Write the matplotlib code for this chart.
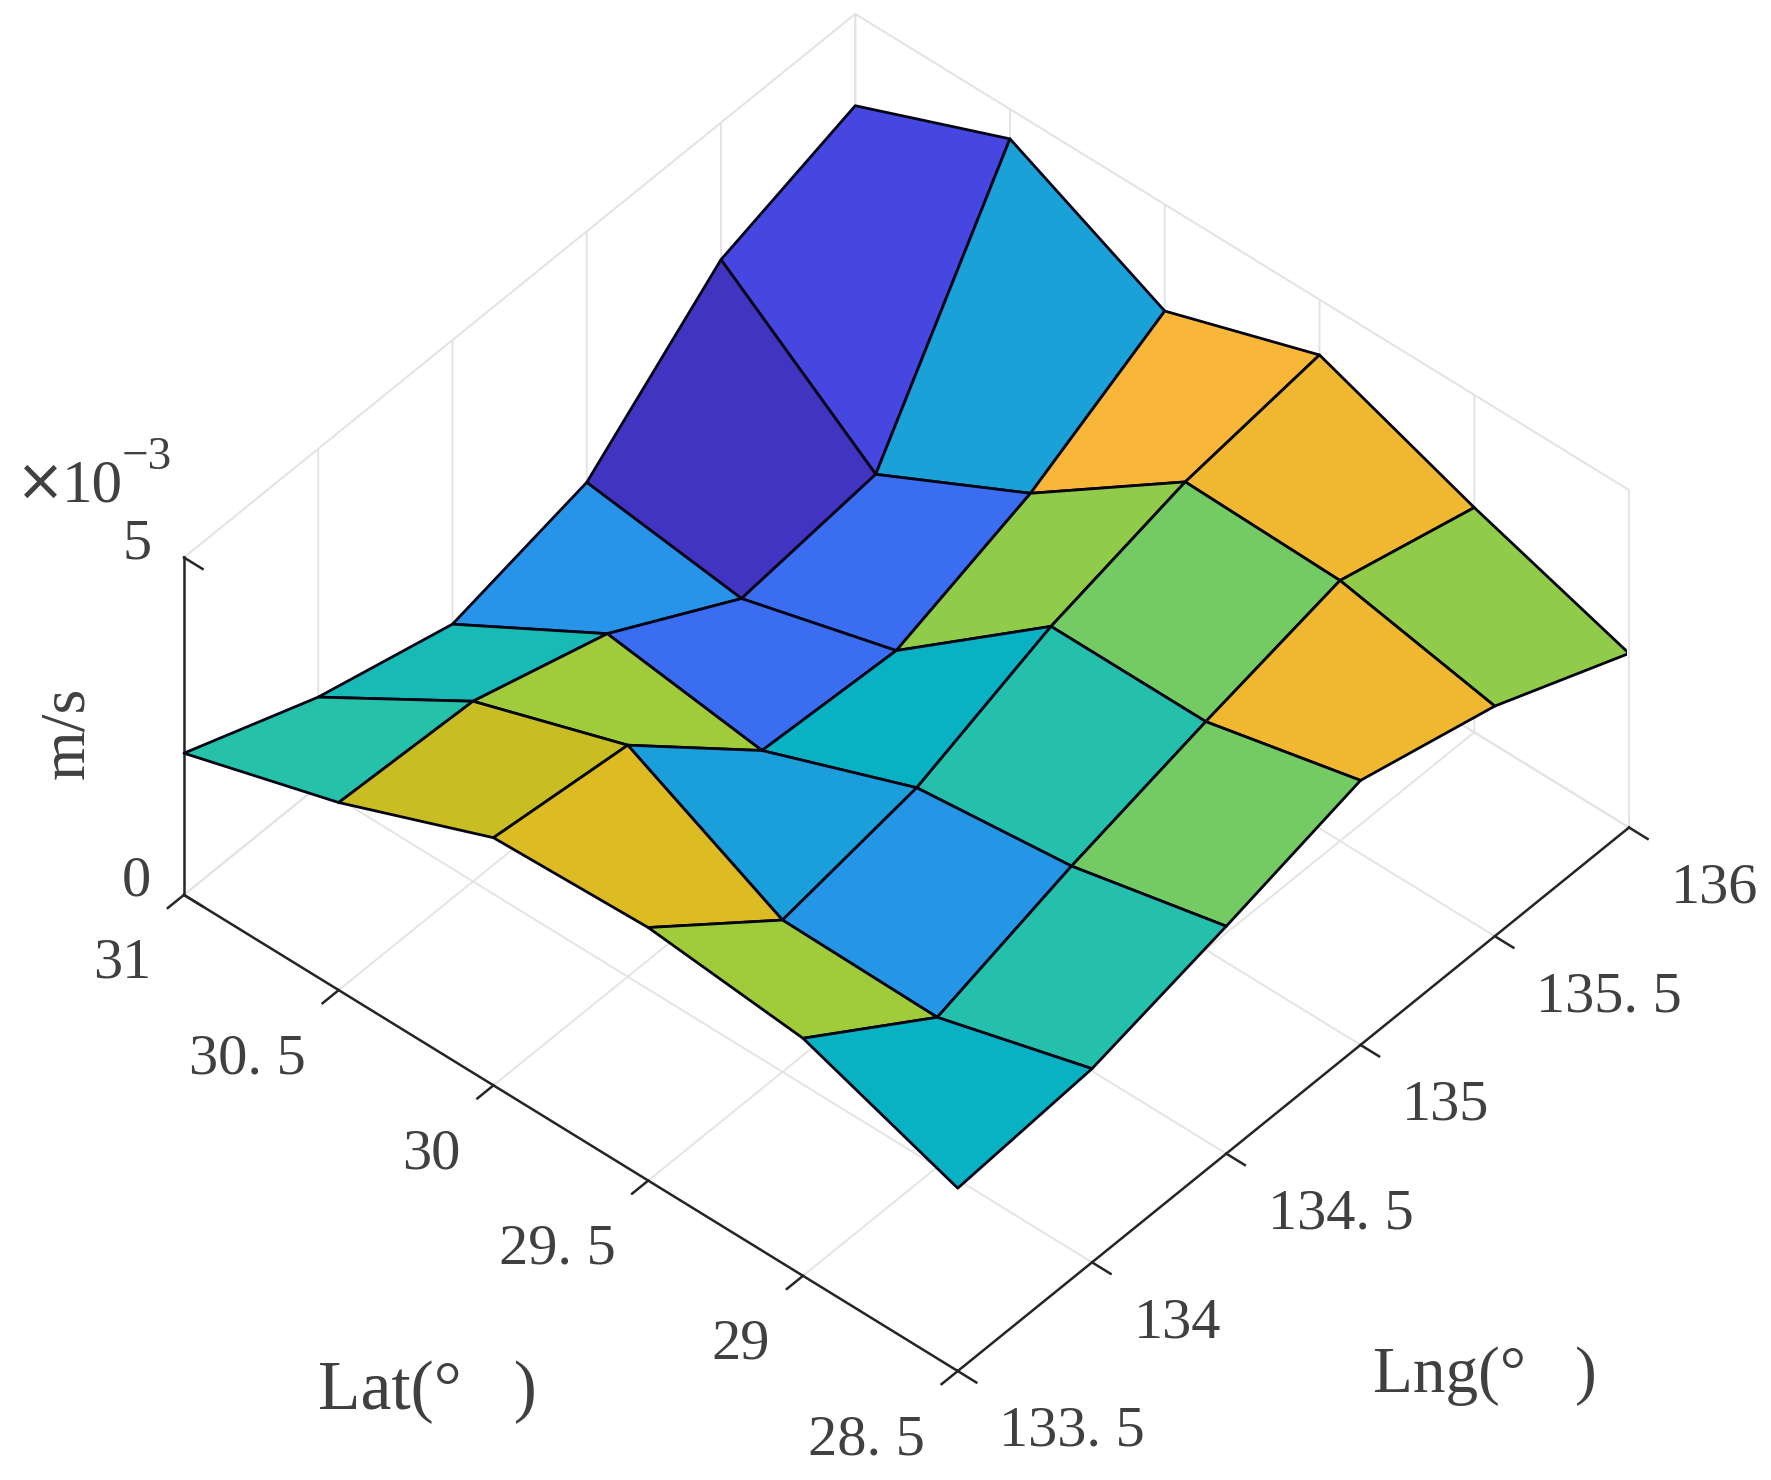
import numpy as np
import matplotlib
matplotlib.use('Agg')
import matplotlib.pyplot as plt
from matplotlib.colors import LinearSegmentedColormap

lng = [133.5, 134, 134.5, 135, 135.5, 136]
lat = [31, 30.5, 30, 29.5, 29, 28.5]
lng_labels = ['133. 5', '134', '134. 5', '135', '135. 5', '136']
lat_labels = ['31', '30. 5', '30', '29. 5', '29', '28. 5']
z_ticks = [0, 5]

# speed in 1e-3 m/s, rows follow lat, columns follow lng
speed = [
    [2.10, 1.32, 0.79, 1.28, 2.97, 3.64],
    [2.78, 2.67, 2.06, 0.97, 1.20, 4.56],
    [3.67, 3.43, 1.74, 1.61, 2.33, 3.42],
    [3.75, 2.25, 2.60, 3.38, 3.91, 4.18],
    [3.52, 2.22, 2.85, 3.38, 3.86, 3.33],
    [2.71, 2.87, 3.37, 3.92, 3.41, 2.58],
]

# colour value of each face, the colours do not follow the height
face_value = [
    [0.536, 0.486, 0.300, 0.050, 0.107],
    [0.781, 0.714, 0.207, 0.207, 0.357],
    [0.811, 0.350, 0.430, 0.693, 0.857],
    [0.714, 0.307, 0.530, 0.657, 0.843],
    [0.430, 0.530, 0.657, 0.843, 0.693],
]

parula = LinearSegmentedColormap.from_list('parula', [
    (0.0, '#3e26a8'), (1 / 7, '#4852f4'), (2 / 7, '#2a90ec'), (3 / 7, '#08b2c4'),
    (4 / 7, '#2fc6a0'), (5 / 7, '#a0cc3c'), (0.781, '#c9bd24'), (0.811, '#dcbc22'),
    (6 / 7, '#f8b638'), (1.0, '#f9fb15')])

plt.rcParams['font.family'] = ['Liberation Serif', 'DejaVu Serif']
plt.rcParams['grid.color'] = '#e4e4e4'
plt.rcParams['grid.linewidth'] = 1.4
plt.rcParams['xtick.color'] = '#262626'
plt.rcParams['ytick.color'] = '#262626'
plt.rcParams['axes.linewidth'] = 1.8

text_color = '#404040'
W, H = 1771, 1480

fig = plt.figure(figsize=(W / 100, H / 100), dpi=100)
ax = fig.add_axes([146.5 / W, 27.5 / H, 1480 / W, 1.0], projection='3d')
ax.set_proj_type('ortho')
ax.view_init(elev=44.9, azim=-138.92)
ax.set_box_aspect((1023, 1028, 477), zoom=1.0)

X, Y = np.meshgrid(lng, lat)
ax.plot_surface(X, Y, np.array(speed), facecolors=parula(np.array(face_value)),
                rstride=1, cstride=1, shade=False,
                edgecolor='#040414', linewidth=2.0)

ax.set_xlim(133.5, 136, view_margin=0)
ax.set_ylim(28.5, 31, view_margin=0)
ax.set_zlim(0, 5, view_margin=0)

ax.set_xticks(lng)
ax.set_yticks(lat)
ax.set_zticks(z_ticks)

for axis in (ax.xaxis, ax.yaxis, ax.zaxis):
    axis.set_tick_params(label1On=False)
    axis.set_pane_color((1, 1, 1, 1))
    axis.pane.set_edgecolor('#e4e4e4')
    axis.line.set_color('#262626')
    axis._axinfo['tick']['inward_factor'] = 0.3
    axis._axinfo['tick']['outward_factor'] = 0
    axis._axinfo['tick']['linewidth'] = {True: 1.8, False: 1.0}

# z ticks point away along lat, like the 31 end of the lat axis
ax.zaxis._get_tickdir = lambda pos: 1

# tick labels, lng ones start after the tick and lat ones end before it
for v, s in zip(lng, lng_labels):
    ax.text(v, 28.366, -0.525, s, fontsize=42, color=text_color,
            ha='left', va='center')
for v, s in zip(lat, lat_labels):
    ax.text(133.378, v, -0.63, s, fontsize=42, color=text_color,
            ha='right', va='center')
for v in z_ticks:
    ax.text(133.5, 31.153, v - 0.24, str(v), fontsize=42, color=text_color,
            ha='center', va='center')

fig.text(427 / W, 1 - 1392 / H, 'Lat(°   )', fontsize=50, color=text_color,
         ha='center', va='center')
fig.text(1485 / W, 1 - 1376 / H, 'Lng(°   )', fontsize=47, color=text_color,
         ha='center', va='center')
fig.text(68 / W, 1 - 733 / H, 'm/s', fontsize=46, color=text_color,
         ha='center', va='center', rotation=90)

# the 10^-3 factor of the z axis
fig.text(40 / W, 1 - 483 / H, '×', fontsize=42, color=text_color,
         family='DejaVu Sans', ha='center', va='center')
fig.text(62 / W, 1 - 501 / H, '10', fontsize=44, color=text_color,
         ha='left', va='baseline')
fig.text(122 / W, 1 - 469 / H, '−3', fontsize=34, color=text_color,
         ha='left', va='baseline')

fig.savefig('out.png', dpi=100)
